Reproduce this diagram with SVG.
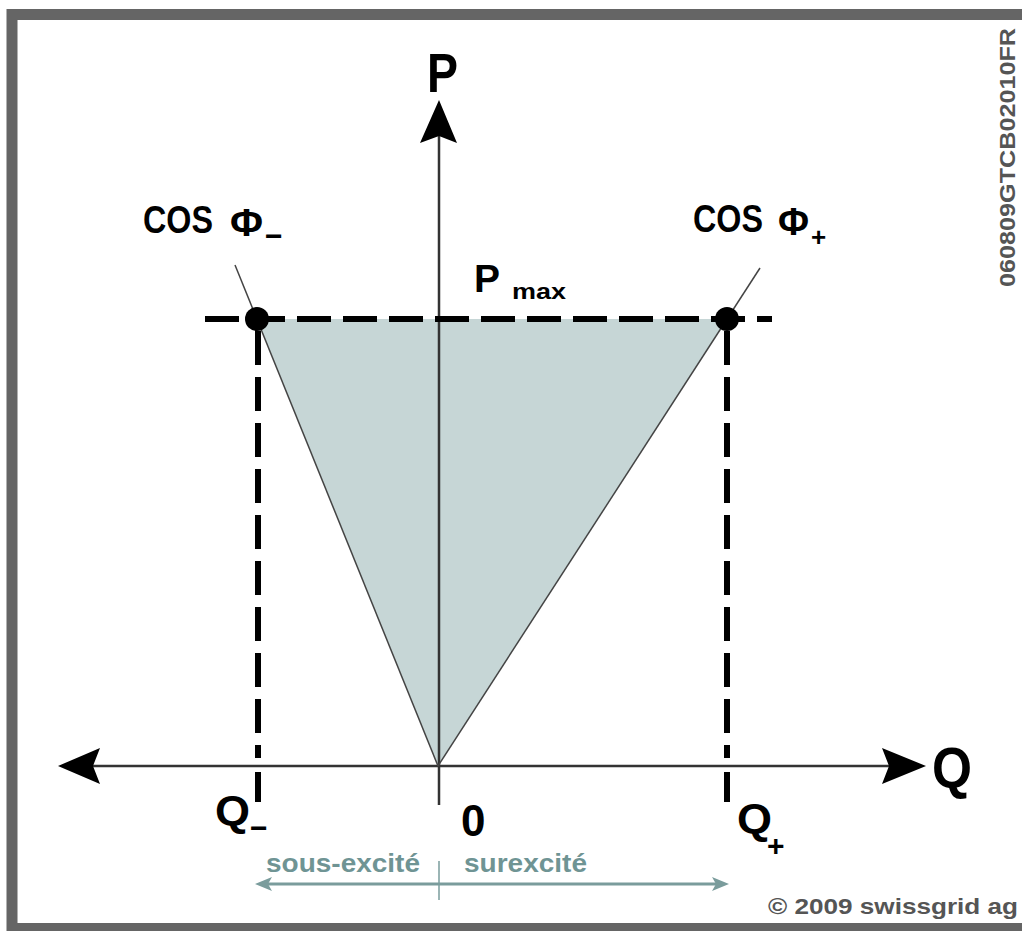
<svg xmlns="http://www.w3.org/2000/svg" width="1022" height="931" viewBox="0 0 1022 931">
<style>
.b{font-family:"Liberation Sans",Arial,sans-serif;font-weight:bold;fill:#000}
.g{font-family:"Liberation Sans",Arial,sans-serif;font-weight:bold;fill:#555}
.t{font-family:"Liberation Sans",Arial,sans-serif;font-weight:bold;fill:#6f9494}
.axis{stroke:#333;stroke-width:2.5;fill:none}
.dash{stroke:#000;stroke-width:6;fill:none;stroke-linecap:butt}
.edge{stroke:#444;stroke-width:1.5;fill:none}
</style>
<rect x="0" y="0" width="1022" height="931" fill="#fff"/>
<g id="frame">
<rect x="12" y="14.5" width="1030" height="914" fill="none" stroke="#656565" stroke-width="11"/>
</g>
<g id="region">
<polygon points="257,319 727,319 438,766" fill="#c6d6d6"/>
</g>
<g id="connectors">
<line class="axis" x1="439" y1="805" x2="439" y2="136"/>
<polygon points="439,100 457,143 439,136 420,143" fill="#000"/>
<line class="axis" x1="92" y1="766" x2="890" y2="766"/>
<polygon points="58,766 100,748 93,766 100,784" fill="#000"/>
<polygon points="926,766 882,748 889,766 882,784" fill="#000"/>
<line class="edge" x1="438" y1="766" x2="235" y2="265"/>
<line class="edge" x1="438" y1="766" x2="760" y2="268"/>
<line class="dash" x1="205" y1="319" x2="772" y2="319" stroke-dasharray="34 12"/>
<line class="dash" x1="258" y1="319" x2="258" y2="758" stroke-dasharray="34 12" stroke-dashoffset="-12"/>
<line class="dash" x1="258" y1="772" x2="258" y2="802"/>
<line class="dash" x1="727" y1="319" x2="727" y2="758" stroke-dasharray="34 12" stroke-dashoffset="-12"/>
<line class="dash" x1="727" y1="772" x2="727" y2="802"/>
<circle cx="257" cy="319" r="12" fill="#000"/>
<circle cx="727" cy="319" r="12" fill="#000"/>
<line x1="268" y1="884" x2="716" y2="884" stroke="#7a9c9c" stroke-width="3"/>
<polygon points="255,884 272,877 268,884 272,891" fill="#7a9c9c"/>
<polygon points="729,884 712,877 716,884 712,891" fill="#7a9c9c"/>
<line x1="439" y1="861" x2="439" y2="900" stroke="#7a9c9c" stroke-width="1.5"/>
</g>
<g id="labels">
<text class="b" x="427" y="92" font-size="56" textLength="31" lengthAdjust="spacingAndGlyphs">P</text>
<text class="b" x="932" y="788" font-size="58" textLength="40" lengthAdjust="spacingAndGlyphs">Q</text>
<text class="b" font-size="38"><tspan x="143" y="233" textLength="70" lengthAdjust="spacingAndGlyphs">COS</tspan><tspan x="230" y="236" textLength="33" lengthAdjust="spacingAndGlyphs">Φ</tspan><tspan x="265" y="246" font-size="30">−</tspan></text>
<text class="b" font-size="38"><tspan x="693" y="232" textLength="70" lengthAdjust="spacingAndGlyphs">COS</tspan><tspan x="778" y="235" textLength="31" lengthAdjust="spacingAndGlyphs">Φ</tspan><tspan x="811" y="246" font-size="26">+</tspan></text>
<text class="b" font-size="38"><tspan x="474" y="292" textLength="26" lengthAdjust="spacingAndGlyphs">P</tspan><tspan x="512" y="299" font-size="22" textLength="54" lengthAdjust="spacingAndGlyphs">max</tspan></text>
<text class="b" font-size="42"><tspan x="215" y="825" textLength="35" lengthAdjust="spacingAndGlyphs">Q</tspan><tspan x="250" y="838" font-size="30">−</tspan></text>
<text class="b" x="461" y="836" font-size="44">0</text>
<text class="b" font-size="42"><tspan x="737" y="833" textLength="35" lengthAdjust="spacingAndGlyphs">Q</tspan><tspan x="767" y="856" font-size="30">+</tspan></text>
<text class="t" x="266" y="872" font-size="25" textLength="154" lengthAdjust="spacingAndGlyphs">sous-excité</text>
<text class="t" x="464" y="872" font-size="25" textLength="123" lengthAdjust="spacingAndGlyphs">surexcité</text>
<text class="g" x="768" y="914" font-size="22" textLength="250" lengthAdjust="spacingAndGlyphs">© 2009 swissgrid ag</text>
<text class="g" x="1015" y="287" font-size="22" textLength="259" lengthAdjust="spacingAndGlyphs" transform="rotate(-90 1015 287)">060809GTCB02010FR</text>
</g>
</svg>
